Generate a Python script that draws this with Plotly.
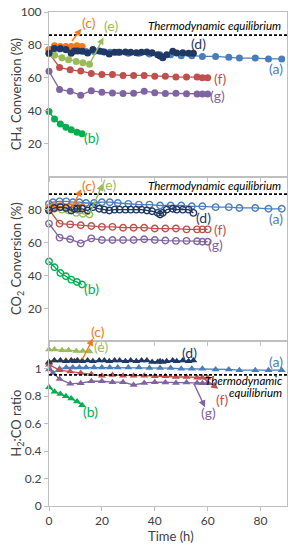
import plotly.graph_objects as go
from plotly.subplots import make_subplots

# ---------------- data ----------------
a_t = [0, 1.5, 4, 6.5, 9, 11.5, 14, 17, 20, 23, 26, 30, 34, 38, 42, 46, 50, 54, 58, 63, 68, 72, 78, 83, 88]
a_ch4 = [77, 77.5, 77.5, 77, 76.5, 76.5, 76, 76, 76, 75.5, 75.5, 75, 75, 74.5, 74, 74, 73.5, 73.5, 73, 73, 72.5, 72, 72, 71.5, 71.5]
a_co2 = [83.5, 84.5, 85, 85, 84.5, 84.5, 84, 84, 84.5, 84.5, 84, 83.5, 83, 83, 82.5, 82.5, 82.5, 82, 82, 81.5, 81.5, 81, 81, 80.5, 80.5]
a_h2co = [1.04, 0.97, 1.0, 1.01, 1.01, 1.01, 1.01, 1.01, 1.01, 1.01, 1.01, 1.01, 1.01, 1.005, 1.005, 1.005, 1.0, 1.0, 1.0, 0.995, 0.995, 0.99, 0.99, 0.99, 0.99]

b_t = [0, 2.1, 4.3, 6.4, 8.4, 10.6, 12.5]
b_ch4 = [39.5, 35, 32, 30, 28.5, 27, 26]
b_co2 = [48.5, 45, 41.5, 39.5, 37.5, 36, 34.5]
b_h2co = [0.865, 0.833, 0.816, 0.799, 0.784, 0.762, 0.735]

c_t = [0, 2.1, 4.3, 6.4, 8.4, 10.6, 12.5]
c_ch4 = [77, 79.5, 79, 79, 79, 79.5, 79]
c_co2 = [81, 82, 82, 81.5, 81.5, 82, 81.5]
c_h2co = [1.05, 1.06, 1.06, 1.06, 1.06, 1.06, 1.06]

d_t = [0, 2, 4.3, 6.4, 8.4, 9.6, 10.8, 12.6, 14.6, 16.6, 19, 20.9, 22.8, 24.8, 26.7, 28.9, 30.9, 33, 35, 37, 39, 41.1, 42, 43, 44.5, 46.8, 48.3, 50.6, 52.8, 54.6]
d_ch4 = [75, 77.8, 77.8, 77.3, 75, 76.3, 76.3, 76.1, 75.1, 77.3, 76.3, 75.7, 74.5, 75.5, 75.5, 75.7, 75.5, 75.3, 75.5, 75.7, 75.3, 74.1, 73.3, 72.2, 74.1, 76.1, 75.1, 75.3, 74.9, 74.9]
d_co2 = [79.5, 81, 81.5, 81, 79.5, 80.5, 80.5, 80.5, 79.5, 81.5, 80.5, 80, 79.5, 80, 80, 80, 80, 80, 80, 79.5, 79, 78, 77, 78, 80, 80.5, 80, 80, 80, 78]
d_h2co = [1.05, 1.06, 1.06, 1.055, 1.06, 1.055, 1.06, 1.055, 1.06, 1.055, 1.06, 1.06, 1.055, 1.06, 1.06, 1.055, 1.06, 1.055, 1.06, 1.06, 1.05, 1.05, 1.055, 1.05, 1.055, 1.06, 1.055, 1.06, 1.055, 1.06]

e_t = [0, 2.1, 4.9, 7.4, 10.3, 12.8, 15.3]
e_ch4 = [74.7, 73.7, 72.2, 71, 70, 69.2, 68.2]
e_co2 = [81, 80.5, 80, 79.5, 78, 77.5, 77]
e_h2co = [1.14, 1.14, 1.135, 1.135, 1.13, 1.13, 1.125]

fg_t = [0, 4, 8, 12, 16, 20, 24, 28, 32, 36, 40, 44, 48, 52, 56, 58, 60]
f_ch4 = [75, 66.3, 64.9, 64.1, 62.7, 62, 62, 61.5, 61.5, 61.5, 61, 61, 60.5, 60.5, 60.5, 60, 60]
f_co2 = [80, 71.5, 71, 70.5, 70, 69.5, 69.5, 69, 69, 69, 68.5, 68.5, 68.5, 68, 68, 68, 68]
f_h2co = [1.03, 0.99, 0.98, 0.97, 0.96, 0.95, 0.955, 0.95, 0.95, 0.95, 0.945, 0.945, 0.94, 0.94, 0.935, 0.935, 0.935]
g_ch4 = [64, 53, 51.8, 49.5, 52.2, 51.2, 50.8, 50.5, 50.6, 51.8, 51, 50.5, 50.6, 50.4, 50.2, 50.2, 50.2]
g_co2 = [71.5, 63, 62, 59.5, 62.5, 61.5, 61.5, 61.5, 61.5, 62, 61.5, 61.2, 61, 61, 60.8, 60.5, 60.5]
g_h2co = [0.995, 0.926, 0.89, 0.895, 0.909, 0.909, 0.902, 0.902, 0.882, 0.897, 0.902, 0.9, 0.897, 0.9, 0.897, 0.895, 0.895]

eq_t = [0, 90]
eq_ch4 = [85.9, 85.9]
eq_co2 = [89.4, 89.4]
eq_h2co = [0.956, 0.956]

y_ranges = [[0, 100], [0, 100], [0, 1.2]]
y_titles = ["CH<sub>4</sub> Conversion (%)", "CO<sub>2</sub> Conversion (%)", "H<sub>2</sub>:CO ratio"]
x_title = "Time (h)"

colors = {"a": "#4A7EBB", "b": "#00B050", "c": "#F5781E", "d": "#1F3864",
          "e": "#9BBB59", "f": "#C0504D", "g": "#8064A2"}

FONT = "Lato, 'Open Sans', sans-serif"
W, H = 307, 550
ML, MR, MT, MB = 49, 20, 12, 44

fig = make_subplots(rows=3, cols=1, shared_xaxes=True, vertical_spacing=0)

series = [
    ("a", a_t, [a_ch4, a_co2, a_h2co]),
    ("f", fg_t, [f_ch4, f_co2, f_h2co]),
    ("g", fg_t, [g_ch4, g_co2, g_h2co]),
    ("b", b_t, [b_ch4, b_co2, b_h2co]),
    ("e", e_t, [e_ch4, e_co2, e_h2co]),
    ("c", c_t, [c_ch4, c_co2, c_h2co]),
    ("d", d_t, [d_ch4, d_co2, d_h2co]),
]
symbols = ["circle", "circle-open", "triangle-up"]
sizes = [7, 6.5, 7]
for key, t, ys in series:
    for r in range(3):
        fig.add_trace(go.Scatter(
            x=t, y=ys[r], mode="lines+markers",
            line=dict(color=colors[key], width=1.3),
            marker=dict(symbol=symbols[r], size=sizes[r], color=colors[key],
                        line=dict(color=colors[key], width=1.4 if r == 1 else 0)),
            showlegend=False, cliponaxis=False), row=r + 1, col=1)

for r, eq in enumerate([eq_ch4, eq_co2, eq_h2co]):
    fig.add_trace(go.Scatter(x=eq_t, y=eq, mode="lines",
                             line=dict(color="black", width=1.8, dash="3px,2px"),
                             showlegend=False), row=r + 1, col=1)

ann = []
def frac(v, row):
    lo, hi = y_ranges[row - 1]
    return (v - lo) / (hi - lo)

def label(txt, x, y, row, color, size=14, xanchor="center"):
    yref = ["y", "y2", "y3"][row - 1] + " domain"
    ann.append(dict(text=txt, x=x, y=frac(y, row), xref="x", yref=yref, showarrow=False,
                    font=dict(family=FONT, size=size, color=color),
                    xanchor=xanchor, yanchor="middle"))

def arrow(x0, y0, x1, y1, row, color):
    yref = ["y", "y2", "y3"][row - 1] + " domain"
    xr = ["x", "x2", "x3"][row - 1]
    ann.append(dict(text="", x=x1, y=frac(y1, row), ax=x0, ay=frac(y0, row),
                    xref=xr, yref=yref, axref=xr, ayref=yref, showarrow=True,
                    arrowhead=2, arrowsize=1, arrowwidth=1.4, arrowcolor=color))

# panel 1 labels
label("(a)", 86, 65.5, 1, colors["a"])
label("(b)", 16, 23.5, 1, colors["b"])
label("(c)", 15, 93.5, 1, colors["c"])
label("(d)", 56.5, 81, 1, colors["d"])
label("(e)", 23.3, 92, 1, colors["e"])
label("(f)", 64.5, 59.5, 1, colors["f"])
label("(g)", 63.8, 49.5, 1, colors["g"])
arrow(8.3, 81.5, 12.2, 89.8, 1, colors["c"])
arrow(15.3, 68.2, 20.6, 84.5, 1, colors["e"])
label("<i>Thermodynamic equilibrium</i>", 88.5, 91.5, 1, "black", size=11.5, xanchor="right")

# panel 2 labels
label("(a)", 86, 74.5, 2, colors["a"])
label("(b)", 16, 31.8, 2, colors["b"])
label("(c)", 15.3, 94.5, 2, colors["c"])
label("(d)", 58.5, 75.5, 2, colors["d"])
label("(e)", 22.6, 95, 2, colors["e"])
label("(f)", 64.5, 67.8, 2, colors["f"])
label("(g)", 63, 59, 2, colors["g"])
arrow(8.3, 80, 12.2, 92.4, 2, colors["c"])
arrow(15.3, 77, 20.3, 95.8, 2, colors["e"])
label("<i>Thermodynamic equilibrium</i>", 88.5, 94.5, 2, "black", size=11.5, xanchor="right")

# panel 3 labels
label("(a)", 86, 1.055, 3, colors["a"])
label("(b)", 15.8, 0.686, 3, colors["b"])
label("(c)", 18.5, 1.27, 3, colors["c"])
label("(d)", 53, 1.12, 3, colors["d"])
label("(e)", 19.8, 1.165, 3, colors["e"])
label("(f)", 65.5, 0.775, 3, colors["f"])
label("(g)", 60.3, 0.68, 3, colors["g"])
arrow(12.4, 1.06, 16.6, 1.22, 3, colors["c"])
arrow(58, 0.935, 64, 0.855, 3, colors["f"])
arrow(54.6, 0.9, 59, 0.72, 3, colors["g"])
label("<i>Thermodynamic</i>", 88.7, 0.914, 3, "black", size=11.5, xanchor="right")
label("<i>equilibrium</i>", 88.7, 0.824, 3, "black", size=11.5, xanchor="right")

# axis titles as annotations (pixel-placed)
tf = dict(family=FONT, size=13, color="#404040")
ph = H - MT - MB
pw = W - ML - MR
for i, txt in enumerate(y_titles):
    yc = 1 - (i + 0.5) / 3
    ann.append(dict(text=txt, x=-(ML - 17) / pw, y=yc, xref="paper", yref="paper",
                    showarrow=False, textangle=-90, font=tf, xanchor="center", yanchor="middle"))
ann.append(dict(text=x_title, x=(171 - ML) / pw, y=-(536 - (H - MB)) / ph,
                xref="paper", yref="paper", showarrow=False, font=tf,
                xanchor="center", yanchor="middle"))

axis_common = dict(showline=True, linecolor="#BFBFBF", linewidth=1, mirror=True,
                   showgrid=False, zeroline=False, ticks="outside", tickcolor="#BFBFBF",
                   ticklen=4, automargin=False,
                   tickfont=dict(family=FONT, size=12, color="#404040"))

fig.update_xaxes(range=[0, 90], tickvals=[0, 20, 40, 60, 80], **axis_common)
fig.update_xaxes(showticklabels=False, row=1, col=1)
fig.update_xaxes(showticklabels=False, row=2, col=1)

fig.update_yaxes(**axis_common)
fig.update_yaxes(range=y_ranges[0], tickvals=[20, 40, 60, 80, 100], row=1, col=1)
fig.update_yaxes(range=y_ranges[1], tickvals=[20, 40, 60, 80], row=2, col=1)
fig.update_yaxes(range=y_ranges[2], tickvals=[0, 0.2, 0.4, 0.6, 0.8, 1],
                 ticktext=["0", "0.2", "0.4", "0.6", "0.8", "1"], row=3, col=1)

fig.update_layout(width=W, height=H, margin=dict(l=ML, r=MR, t=MT, b=MB),
                  plot_bgcolor="white", paper_bgcolor="white",
                  annotations=ann, showlegend=False, hovermode=False)

fig.write_html("out.html", config={"displayModeBar": False},
               post_script="document.body.style.margin='0';")
